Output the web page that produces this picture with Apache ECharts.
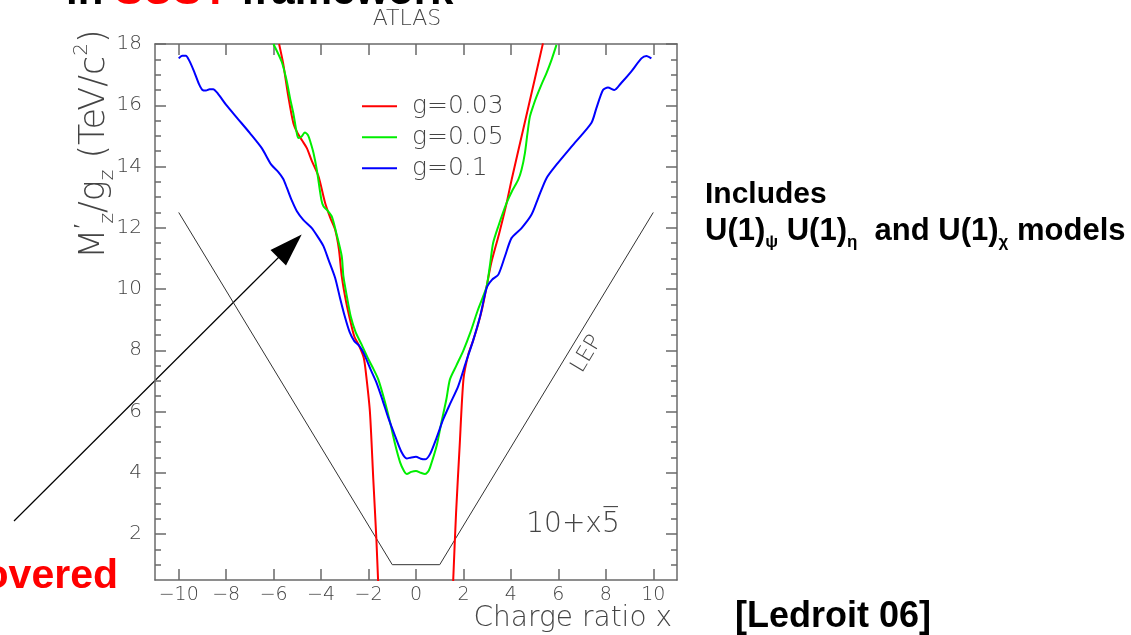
<!DOCTYPE html>
<html>
<head>
<meta charset="utf-8">
<title>Z' reach vs charge ratio</title>
<script src="https://cdn.jsdelivr.net/npm/echarts@6/dist/echarts.min.js"></script>
<style>
  html, body { margin: 0; padding: 0; background: #ffffff; }
  #chart { width: 1131px; height: 635px; }
</style>
</head>
<body>
<div id="chart"></div>
<script>
// Reach curves: M(Z')/g_z in TeV/c^2 versus charge ratio x
const curveG003Left = [
  [-5.77, 18.0], [-5.6, 17.37], [-5.38, 16.28], [-5.17, 15.42], [-5.0, 15.1],
  [-4.8, 14.85], [-4.6, 14.6], [-4.4, 14.2], [-4.11, 13.68], [-3.83, 12.81],
  [-3.6, 12.3], [-3.41, 11.94], [-3.25, 11.3], [-3.13, 10.42], [-2.95, 9.6],
  [-2.75, 8.9], [-2.6, 8.45], [-2.4, 8.15], [-2.2, 7.75], [-2.08, 7.05],
  [-1.94, 5.97], [-1.8, 3.79], [-1.67, 1.84], [-1.6, 0.53], [-1.56, 0.0]
];
const curveG003Right = [
  [1.55, 0.0], [1.57, 0.53], [1.69, 2.71], [1.84, 4.88], [2.0, 7.05],
  [2.2, 7.85], [2.4, 8.3], [2.6, 8.8], [2.8, 9.4], [2.98, 10.09],
  [3.17, 10.85], [3.5, 11.8], [3.82, 12.81], [4.03, 13.57], [4.5, 15.15],
  [5.0, 16.83], [5.35, 18.02]
];
const curveG005 = [
  [-6.01, 18.0], [-5.66, 17.42], [-5.46, 16.83], [-5.3, 16.2], [-5.17, 15.74],
  [-5.05, 15.2], [-4.96, 14.93], [-4.82, 14.98], [-4.69, 15.11], [-4.55, 15.02],
  [-4.45, 14.8], [-4.32, 14.44], [-4.18, 13.89], [-3.99, 12.92], [-3.9, 12.7],
  [-3.76, 12.59], [-3.55, 12.37], [-3.36, 11.83], [-3.13, 11.07], [-3.06, 10.42],
  [-2.9, 9.7], [-2.75, 9.1], [-2.55, 8.6], [-2.3, 8.2], [-2.0, 7.7],
  [-1.8, 7.4], [-1.59, 7.05], [-1.3, 6.29], [-1.09, 5.64], [-0.88, 4.93],
  [-0.67, 4.34], [-0.5, 4.05], [-0.39, 3.96], [-0.2, 4.03], [0.0, 4.06],
  [0.2, 4.0], [0.38, 3.96], [0.5, 4.03], [0.59, 4.17], [0.87, 4.88],
  [1.07, 5.64], [1.28, 6.4], [1.43, 7.05], [1.7, 7.5], [2.0, 8.0],
  [2.3, 8.6], [2.6, 9.3], [2.85, 9.8], [2.98, 10.09], [3.12, 10.8],
  [3.25, 11.5], [3.47, 12.05], [3.82, 12.81], [4.05, 13.2], [4.31, 13.57],
  [4.45, 13.9], [4.59, 14.44], [4.7, 15.1], [4.8, 15.63], [4.95, 16.0],
  [5.08, 16.28], [5.3, 16.7], [5.5, 17.05], [5.72, 17.5], [5.92, 17.97]
];
const curveG01 = [
  [-10.0, 17.53], [-9.85, 17.62], [-9.7, 17.62], [-9.55, 17.45], [-9.35, 17.1],
  [-9.15, 16.7], [-9.0, 16.5], [-8.85, 16.48], [-8.7, 16.52], [-8.55, 16.52],
  [-8.35, 16.38], [-8.0, 16.01], [-7.5, 15.55], [-7.0, 15.09], [-6.5, 14.6],
  [-6.1, 14.06], [-5.8, 13.82], [-5.6, 13.6], [-5.44, 13.3], [-5.24, 12.9],
  [-5.02, 12.54], [-4.75, 12.26], [-4.39, 11.99], [-4.11, 11.67], [-3.9, 11.4],
  [-3.69, 10.96], [-3.41, 10.37], [-3.2, 9.7], [-3.0, 9.1], [-2.8, 8.6],
  [-2.6, 8.3], [-2.4, 8.15], [-2.2, 7.9], [-1.9, 7.35], [-1.67, 6.95],
  [-1.4, 6.35], [-1.17, 5.8], [-0.88, 5.2], [-0.6, 4.66], [-0.39, 4.47],
  [-0.2, 4.5], [0.0, 4.52], [0.2, 4.46], [0.38, 4.44], [0.59, 4.61],
  [0.87, 5.15], [1.15, 5.75], [1.43, 6.24], [1.78, 6.83], [2.1, 7.6],
  [2.4, 8.3], [2.7, 9.1], [2.98, 10.04], [3.2, 10.3], [3.47, 10.47],
  [3.75, 11.07], [4.03, 11.67], [4.45, 11.99], [4.87, 12.43], [5.15, 12.97],
  [5.5, 13.62], [5.92, 14.06], [6.62, 14.71], [7.39, 15.42], [7.6, 15.9],
  [7.88, 16.5], [8.09, 16.58], [8.36, 16.5], [8.64, 16.72], [9.07, 17.1],
  [9.5, 17.53], [9.71, 17.61], [9.92, 17.53]
];
// LEP exclusion boundary
const lepBound = [[-10, 12.5], [-1, 1], [1, 1], [10, 12.5]];

const seriesNames = ['g=0.03', 'g=0.05', 'g=0.1'];
const xTickValues = [-10, -8, -6, -4, -2, 0, 2, 4, 6, 8, 10];
const yTickValues = [2, 4, 6, 8, 10, 12, 14, 16, 18];
const yMinorTickValues = [1, 1.5, 2.5, 3, 3.5, 4.5, 5, 5.5, 6.5, 7, 7.5, 8.5, 9, 9.5,
  10.5, 11, 11.5, 12.5, 13, 13.5, 14.5, 15, 15.5, 16.5, 17, 17.5];

const axisGray = '#6a6a6a';
const textGray = '#444';
const thinFont = 'DejaVu Sans';
const boldFont = "'Liberation Sans', Arial, sans-serif";

const chart = echarts.init(document.getElementById('chart'), null, { renderer: 'canvas' });

function xAxisDef(position, withLabels) {
  return {
    type: 'value', position: position, min: -11, max: 11,
    axisLine: { show: true, onZero: false, lineStyle: { color: axisGray, width: 1.5 } },
    axisTick: { show: true, inside: true, length: 11, customValues: xTickValues,
      lineStyle: { color: axisGray, width: 1.5 } },
    axisLabel: {
      show: withLabels, customValues: xTickValues, margin: 6,
      fontFamily: thinFont, fontWeight: 200, fontSize: 19, color: textGray,
      formatter: v => (v < 0 ? '\u2212' + (-v) : String(v))
    },
    splitLine: { show: false }
  };
}
function yAxisDef(position, ticks, tickLen, withLine, withLabels) {
  return {
    type: 'value', position: position, min: 0.5, max: 18,
    axisLine: { show: withLine, onZero: false, lineStyle: { color: axisGray, width: 1.5 } },
    axisTick: { show: true, inside: true, length: tickLen, customValues: ticks,
      lineStyle: { color: axisGray, width: 1.5 } },
    axisLabel: {
      show: withLabels, customValues: yTickValues, margin: 13,
      fontFamily: thinFont, fontWeight: 200, fontSize: 20, color: textGray
    },
    splitLine: { show: false }
  };
}

function curve(name, data, color, z) {
  return {
    name: name, type: 'line', data: data, xAxisIndex: 0, yAxisIndex: 0,
    showSymbol: false, symbol: 'none', smooth: 0.25, clip: true, z: z,
    lineStyle: { color: color, width: 2 }, itemStyle: { color: color },
    emphasis: { disabled: true }
  };
}

const option = {
  animation: false,
  backgroundColor: '#ffffff',
  grid: { left: 155, right: 454, top: 44, bottom: 55 },
  xAxis: [xAxisDef('bottom', true), xAxisDef('top', false)],
  yAxis: [
    yAxisDef('left', yTickValues, 11, true, true),
    yAxisDef('left', yMinorTickValues, 6, false, false),
    yAxisDef('right', yTickValues, 11, true, false),
    yAxisDef('right', yMinorTickValues, 6, false, false)
  ],
  legend: {
    data: seriesNames, orient: 'vertical', left: 357, top: 86,
    icon: 'rect', itemWidth: 35, itemHeight: 2, itemGap: 0.5,
    selectedMode: false,
    textStyle: { fontFamily: thinFont, fontWeight: 200, fontSize: 25, color: textGray,
      lineHeight: 30.5, padding: [0, 0, 0, 10] }
  },
  series: [
    {
      name: 'LEP', type: 'line', data: lepBound, showSymbol: false, symbol: 'none',
      lineStyle: { color: '#333', width: 1 }, z: 1, emphasis: { disabled: true }
    },
    curve(seriesNames[0], curveG003Left, '#ff0000', 3),
    curve(seriesNames[0], curveG003Right, '#ff0000', 3),
    curve(seriesNames[1], curveG005, '#00ee00', 4),
    curve(seriesNames[2], curveG01, '#0000ff', 5)
  ],
  graphic: [
    // heading line, mostly above the top edge
    { type: 'text', x: 66, y: -8, style: {
        text: '{k|in }{r|SUSY}{k| framework}', align: 'left', verticalAlign: 'middle',
        rich: {
          k: { fontFamily: boldFont, fontWeight: 'bold', fontSize: 42, fill: '#000' },
          r: { fontFamily: boldFont, fontWeight: 'bold', fontSize: 42, fill: '#ff0000' }
        } } },
    { type: 'text', x: 407, y: 19, style: {
        text: 'ATLAS', align: 'center', verticalAlign: 'middle',
        fontFamily: thinFont, fontWeight: 200, fontSize: 22, fill: textGray } },
    // vertical axis title
    { type: 'text', x: 95, y: 144, rotation: Math.PI / 2, style: {
        text: '{m|M}{p|\u2032}{s|z}{m|/g}{s|z}{m| (TeV/c}{u|2}{m|)}',
        align: 'center', verticalAlign: 'middle',
        rich: {
          m: { fontFamily: thinFont, fontWeight: 200, fontSize: 35, lineHeight: 46, verticalAlign: 'middle', fill: textGray },
          s: { fontFamily: thinFont, fontWeight: 200, fontSize: 20, lineHeight: 20, verticalAlign: 'bottom', fill: textGray },
          p: { fontFamily: thinFont, fontWeight: 200, fontSize: 23, lineHeight: 27, verticalAlign: 'top', fill: textGray },
          u: { fontFamily: thinFont, fontWeight: 200, fontSize: 20, lineHeight: 23, verticalAlign: 'top', fill: textGray }
        } } },
    { type: 'text', x: 672, y: 619, style: {
        text: 'Charge ratio x', align: 'right', verticalAlign: 'middle',
        fontFamily: thinFont, fontWeight: 200, fontSize: 28, fill: textGray } },
    { type: 'text', x: 587, y: 354, rotation: 1.03, style: {
        text: 'LEP', align: 'center', verticalAlign: 'middle',
        fontFamily: thinFont, fontWeight: 200, fontSize: 22, fill: textGray } },
    { type: 'text', x: 573, y: 525, style: {
        text: '10+x5\u0305', align: 'center', verticalAlign: 'middle',
        fontFamily: thinFont, fontWeight: 200, fontSize: 28, fill: textGray } },
    // pointer arrow
    { type: 'line', shape: { x1: 14, y1: 521, x2: 282, y2: 254 },
      style: { stroke: '#000', lineWidth: 1.2 } },
    { type: 'polygon', shape: { points: [[301.7, 234.5], [270.5, 250], [286, 265.5]] },
      style: { fill: '#000' } },
    { type: 'text', x: 118, y: 577, style: {
        text: 'covered', align: 'right', verticalAlign: 'middle',
        fontFamily: boldFont, fontWeight: 'bold', fontSize: 41, fill: '#ff0000' } },
    { type: 'text', x: 705, y: 195, style: {
        text: 'Includes', align: 'left', verticalAlign: 'middle',
        fontFamily: boldFont, fontWeight: 'bold', fontSize: 30, fill: '#000' } },
    { type: 'text', x: 705, y: 231, style: {
        text: '{m|U(1)}{s|\u03c8}{m| U(1)}{s|\u03b7}{m|  and U(1)}{s|\u03c7}{m| models}',
        align: 'left', verticalAlign: 'middle',
        rich: {
          m: { fontFamily: boldFont, fontWeight: 'bold', fontSize: 31, lineHeight: 40, verticalAlign: 'middle', fill: '#000' },
          s: { fontFamily: boldFont, fontWeight: 'bold', fontSize: 17, lineHeight: 17, verticalAlign: 'bottom', fill: '#000' }
        } } },
    { type: 'text', x: 735, y: 617, style: {
        text: '[Ledroit 06]', align: 'left', verticalAlign: 'middle',
        fontFamily: boldFont, fontWeight: 'bold', fontSize: 36, fill: '#000' } }
  ]
};

chart.setOption(option);
</script>
</body>
</html>
